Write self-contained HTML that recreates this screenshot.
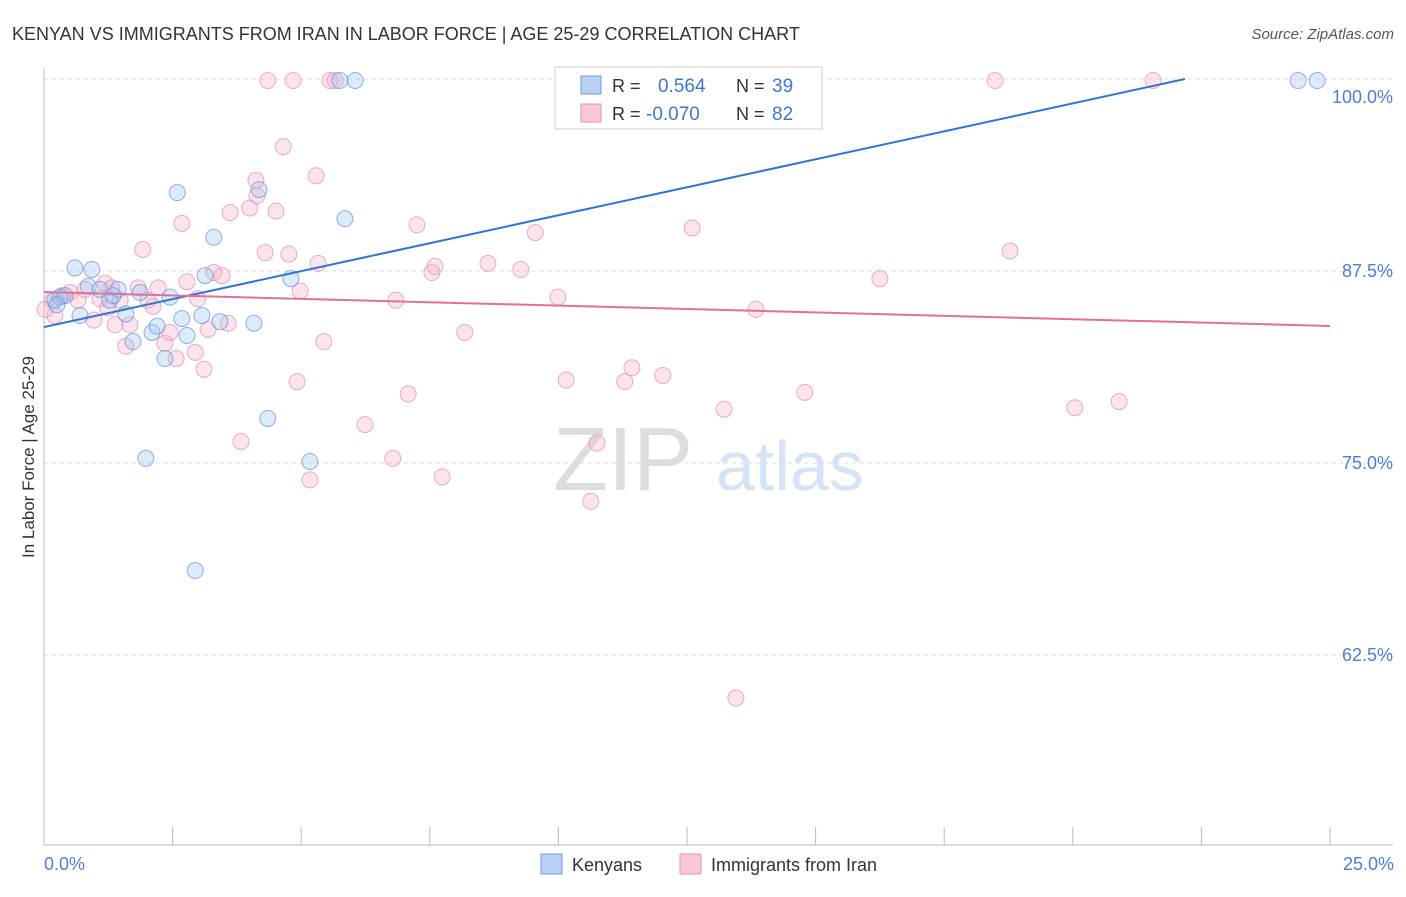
<!DOCTYPE html>
<html><head><meta charset="utf-8"><style>
body{margin:0;background:#fff;font-family:"Liberation Sans",sans-serif;}
svg text{font-family:"Liberation Sans",sans-serif;}
</style></head><body>
<svg id="chart" width="1406" height="892">
<text x="12" y="40" font-size="18" fill="#333">KENYAN VS IMMIGRANTS FROM IRAN IN LABOR FORCE | AGE 25-29 CORRELATION CHART</text>
<text x="1394" y="39" font-size="15" fill="#555" font-style="italic" text-anchor="end">Source: ZipAtlas.com</text>
<g><text x="553" y="490" font-size="90" fill="#ddd" font-family="Liberation Serif">ZIP</text><text x="716" y="490" font-size="70" fill="#d4e3f5">atlas</text></g>
<g id="grid"></g><g id="axes"></g><g id="marks"></g>
<text transform="translate(34,457) rotate(-90)" font-size="17" fill="#333" text-anchor="middle">In Labor Force | Age 25-29</text>
<text x="44" y="870" font-size="18" fill="#4a7fd4">0.0%</text>
<text x="1394" y="870" font-size="18" fill="#4a7fd4" text-anchor="end">25.0%</text>
<g>
<rect x="555" y="67" width="267" height="62" fill="#fff" stroke="#ccc"/>
<rect x="581" y="76" width="20" height="18" fill="#b8d2f3" stroke="#6a9ce0"/>
<rect x="581" y="104" width="20" height="18" fill="#f9c8d8" stroke="#e890b0"/>
<text x="612" y="92" font-size="18" fill="#333">R = </text><text x="658" y="92" font-size="19" fill="#3a78d4">0.564</text>
<text x="736" y="92" font-size="18" fill="#333">N = </text><text x="772" y="92" font-size="19" fill="#3a78d4">39</text>
<text x="612" y="120" font-size="18" fill="#333">R = </text><text x="646" y="120" font-size="19" fill="#3a78d4">-0.070</text>
<text x="736" y="120" font-size="18" fill="#333">N = </text><text x="772" y="120" font-size="19" fill="#3a78d4">82</text>
</g>
<g>
<rect x="541" y="854" width="21" height="20" fill="#b8d2f3" stroke="#6a9ce0"/><text x="572" y="871" font-size="18" fill="#333">Kenyans</text>
<rect x="680" y="854" width="21" height="20" fill="#f9c8d8" stroke="#e890b0"/><text x="711" y="871" font-size="18" fill="#333">Immigrants from Iran</text>
</g>
</svg>
<script>
const yTicks=[100,87.5,75,62.5];
const yTickLabels=["100.0%","87.5%","75.0%","62.5%"];
const kenyanX=[0.21,0.31,0.60,0.93,0.70,0.86,1.09,1.28,1.44,1.59,1.73,1.87,1.98,2.10,2.20,2.35,2.45,2.59,2.68,2.78,2.94,3.07,3.13,3.30,3.42,4.08,4.18,4.35,4.80,5.17,5.75,5.85,6.05,10.36,24.38,24.75,0.41,0.25,1.34];
const kenyanY=[85.6,85.8,87.7,87.6,84.6,86.5,86.3,85.6,86.3,84.7,82.9,86.1,75.3,83.5,83.9,81.8,85.8,92.6,84.4,83.3,68.0,84.6,87.2,89.7,84.2,84.1,92.8,77.9,87.0,75.1,99.9,90.9,99.9,99.9,99.9,99.9,85.9,85.3,85.9];
const iranX=[0.16,0.21,0.35,0.51,0.66,0.80,0.97,1.09,1.19,1.32,1.38,1.48,1.59,1.67,1.83,1.92,2.02,2.12,2.22,2.35,2.45,2.57,2.68,2.78,2.94,2.99,3.11,3.19,3.30,3.46,3.58,3.62,3.83,4.00,4.12,4.14,4.30,4.35,4.51,4.65,4.76,4.84,4.92,4.98,5.17,5.29,5.33,5.44,5.56,5.66,6.24,6.78,6.84,7.08,7.25,7.54,7.60,7.74,8.18,8.63,9.27,9.55,9.99,10.15,10.63,10.75,11.29,11.43,12.03,12.60,13.22,13.45,13.84,14.79,16.25,18.49,18.78,20.04,20.90,21.56,0.02,1.24];
const iranY=[85.6,84.6,85.9,86.1,85.6,86.3,84.3,85.7,86.7,86.4,84.0,85.6,82.6,84.0,86.4,88.9,85.6,85.2,86.4,82.8,83.5,81.8,90.6,86.8,82.2,85.7,81.1,83.7,87.4,87.2,84.1,91.3,76.4,91.6,93.4,92.4,88.7,99.9,91.4,95.6,88.6,99.9,80.3,86.2,73.9,93.7,88.0,82.9,99.9,99.9,77.5,75.3,85.6,79.5,90.5,87.4,87.8,74.1,83.5,88.0,87.6,90.0,85.8,80.4,72.5,76.3,80.3,81.2,80.7,90.3,78.5,59.7,85.0,79.6,87.0,99.9,88.8,78.6,79.0,99.9,85.0,85.1];
const kenyanTrend=[83.85,100];
const kenyanTrendEndX=[0,22.18];
const iranTrend=[86.13,83.92];
const NS="http://www.w3.org/2000/svg";
const sx=v=>44+v/25*1286, sy=v=>79+(100-v)*15.36;
function mk(t,a,p){const e=document.createElementNS(NS,t);for(const k in a)e.setAttribute(k,a[k]);p.appendChild(e);return e;}
const grid=document.getElementById('grid'),axes=document.getElementById('axes'),marks=document.getElementById('marks');
yTicks.forEach((t,i)=>{
 const l=mk('line',{x1:44,x2:1393,y1:sy(t),y2:sy(t),stroke:'#ddd','stroke-dasharray':'4,4'},grid);
 
 
 const tx=mk('text',{x:1393,y:sy(t)+(i==0?24:6),'font-size':18,fill:'#4a7fd4','text-anchor':'end'},grid);
 tx.textContent=yTickLabels[i];
 
 
});
const ya=mk('line',{x1:44,x2:44,y1:68,y2:845,stroke:'#bbb'},axes);


const xa=mk('line',{x1:44,x2:1393,y1:845,y2:845,stroke:'#bbb'},axes);


for(let i=1;i<=10;i++){const t=mk('line',{x1:sx(i*2.5),x2:sx(i*2.5),y1:827,y2:845,stroke:'#bbb'},axes);
 
 }
function dots(X,Y,fill,stroke,name){X.forEach((x,i)=>{const c=mk('circle',{cx:sx(x),cy:sy(Y[i]),r:8,fill:fill,'fill-opacity':0.35,stroke:stroke,'stroke-opacity':0.7,'stroke-width':1},marks);
 
 });}
dots(iranX,iranY,'#f6b3c9','#e48aab','iran-point');
dots(kenyanX,kenyanY,'#9fc2ee','#5f93db','kenyan-point');
const bl=mk('line',{x1:sx(kenyanTrendEndX[0]),y1:sy(kenyanTrend[0]),x2:sx(kenyanTrendEndX[1]),y2:sy(kenyanTrend[1]),stroke:'#2f74d6','stroke-width':2},marks);


const pl=mk('line',{x1:sx(0),y1:sy(iranTrend[0]),x2:sx(25),y2:sy(iranTrend[1]),stroke:'#e0709a','stroke-width':2},marks);


</script>
</body></html>
